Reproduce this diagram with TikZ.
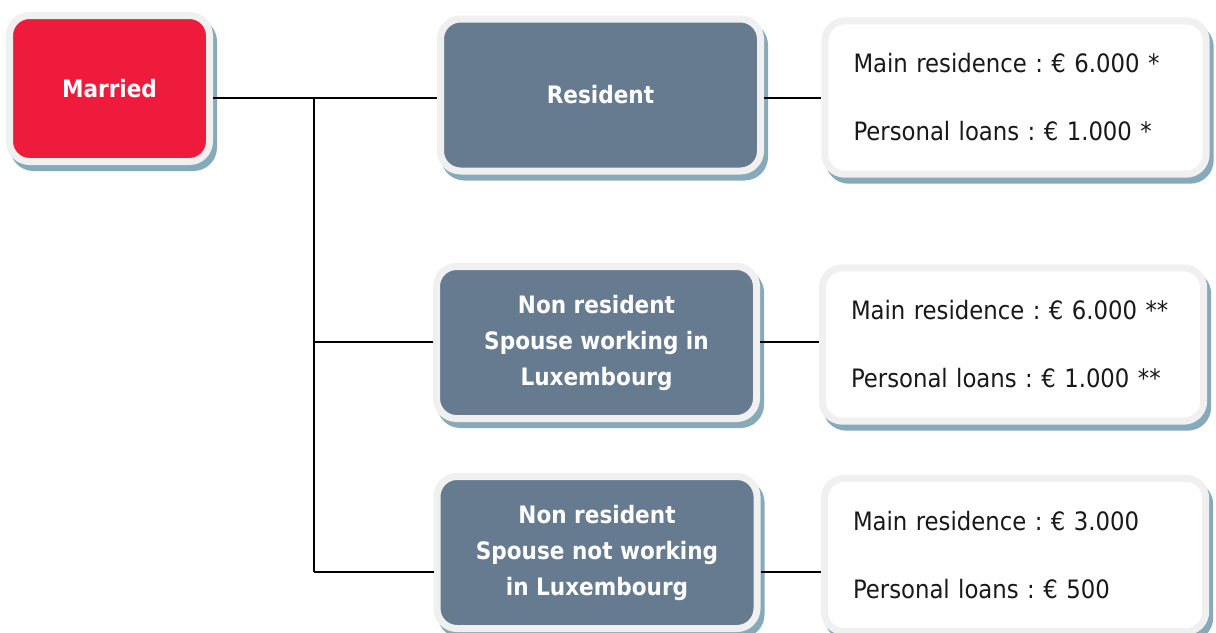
\documentclass[tikz,border=0pt]{standalone}
\usepackage{fontspec}
\setmainfont{DejaVu Sans Condensed}
\frenchspacing
\definecolor{marriedred}{HTML}{EE1B3C}
\definecolor{slate}{HTML}{667B8F}
\definecolor{outergrey}{HTML}{F0F0F0}
\definecolor{shadowblue}{HTML}{86AAB9}
\begin{document}
\begin{tikzpicture}[x=0.75pt,y=-0.75pt,
  basebox/.style={rectangle, rounded corners=15pt, line width=5.25pt, draw=outergrey,
    inner sep=0pt, align=center,
    preaction={draw=shadowblue, fill=shadowblue, transform canvas={shift={(3pt,-4.5pt)}}}},
  redbox/.style={basebox, fill=marriedred, text=white, minimum width=150pt, minimum height=109.5pt,
    font=\bfseries\fontsize{18}{27}\selectfont},
  darkbox/.style={basebox, fill=slate, text=white, minimum width=240pt, minimum height=114pt,
    font=\bfseries\fontsize{18}{27}\selectfont},
  infobox/.style={basebox, fill=white, text=black!90, minimum width=286pt, minimum height=115pt,
    text width=243pt, align=left, font=\fontsize{19}{51}\selectfont},
  conn/.style={draw=black, line width=1.5pt}]
\useasboundingbox (0,0) rectangle (1216,632);
\fill[white] (0,0) rectangle (1216,632);
\coordinate (j1) at (314,98);
\coordinate (j2) at (314,342);
\coordinate (j3) at (314,572);
\draw[conn] (j1) -- (j3);
\node[redbox] (married) at (109.5,88.5) {Married};
\node[darkbox] (resident) at (600.5,95) {Resident};
\node[darkbox] (nr1) at (596.5,342.5) {Non resident\\Spouse working in\\Luxembourg};
\node[darkbox] (nr2) at (597,552.5) {Non resident\\Spouse not working\\in Luxembourg};
\node[infobox] (r1) at (1015.5,97.5) {Main residence : € 6.000 *\\Personal loans : € 1.000 *};
\node[infobox] (r2) at (1013,344.5) {Main residence : € 6.000 **\\Personal loans : € 1.000 **};
\node[infobox] (r3) at (1015,555) {Main residence : € 3.000\\Personal loans : € 500};
\draw[conn] (married.east |- j1) -- (resident.west |- j1);
\draw[conn] (j2) -- (nr1.west |- j2);
\draw[conn] (j3) -- (nr2.west |- j3);
\draw[conn] (resident.east |- j1) -- (r1.west |- j1);
\draw[conn] (nr1.east |- j2) -- (r2.west |- j2);
\draw[conn] (nr2.east |- j3) -- (r3.west |- j3);
\end{tikzpicture}
\end{document}
